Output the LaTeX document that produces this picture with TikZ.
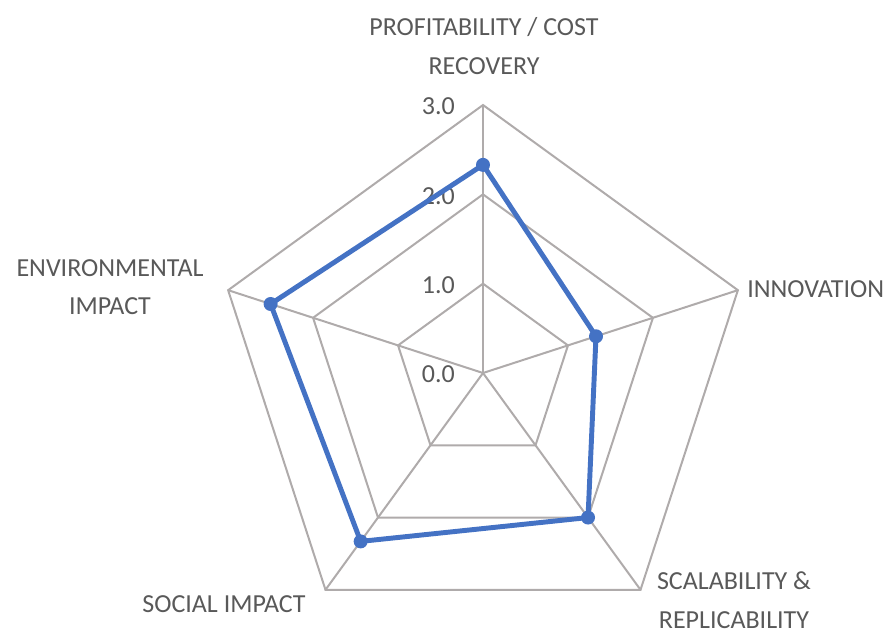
\documentclass[tikz,border=0pt]{standalone}
\usepackage{fontspec}
\setmainfont{Carlito}
\definecolor{gridc}{RGB}{175,171,171}
\definecolor{txt}{RGB}{89,89,89}
\definecolor{series}{RGB}{68,114,196}
\begin{document}
\begin{tikzpicture}[x=0.75pt,y=-0.75pt,
  gridline/.style={draw=gridc,line width=1.5pt,line join=miter},
  serline/.style={draw=series,line width=3.7pt,line join=round},
  marker/.style={circle,fill=series,inner sep=0pt,minimum size=10.5pt},
  lab/.style={text=txt,font=\fontsize{19.5}{29}\selectfont,inner sep=0pt,align=center},
  tick/.style={text=txt,font=\fontsize{19.5}{24}\selectfont,inner sep=0pt,anchor=east}]
\useasboundingbox (0,0) rectangle (891,635);
\coordinate (O) at (483,373);
\def\U{89.33}
\begin{scope}[shift={(483,373)}]
% axis directions (screen angles): -90 top, -18 right, 54 bottom-right, 126 bottom-left, 198 left
\foreach \lev in {1,2,3}{
  \foreach \ang [count=\i] in {-90,-18,54,126,198}{
    \coordinate (g\lev-\i) at (\ang:{\lev*\U});
  }
}
\foreach \lev in {1,2,3}{
  \draw[gridline] (g\lev-1) -- (g\lev-2) -- (g\lev-3) -- (g\lev-4) -- (g\lev-5) -- cycle;
}
\foreach \i in {1,...,5}{
  \draw[gridline] (O) -- (g3-\i);
}
% data
\coordinate (d1) at (-90:{2.33*\U});
\coordinate (d2) at (-18:{1.33*\U});
\coordinate (d3) at (54:{2.0*\U});
\coordinate (d4) at (126:{2.33*\U});
\coordinate (d5) at (198:{2.5*\U});
\end{scope}
% tick labels
\node[tick] (t0) at (455,374) {0.0};
\node[tick] (t1) at (455,285) {1.0};
\node[tick] (t2) at (455,196) {2.0};
\node[tick] (t3) at (455,106) {3.0};
% series
\draw[serline] (d1) -- (d2) -- (d3) -- (d4) -- (d5) -- cycle;
\foreach \i in {1,...,5}{
  \node[marker] (m\i) at (d\i) {};
}
% axis labels
\node[lab] (l1) at (484,46) {PROFITABILITY / COST\\RECOVERY};
\node[lab,anchor=west] (l2) at (747,289) {INNOVATION};
\node[lab] (l3) at (734,600) {SCALABILITY \&\\REPLICABILITY};
\node[lab] (l4) at (224,604) {SOCIAL IMPACT};
\node[lab] (l5) at (110,287) {ENVIRONMENTAL\\IMPACT};
\end{tikzpicture}
\end{document}
